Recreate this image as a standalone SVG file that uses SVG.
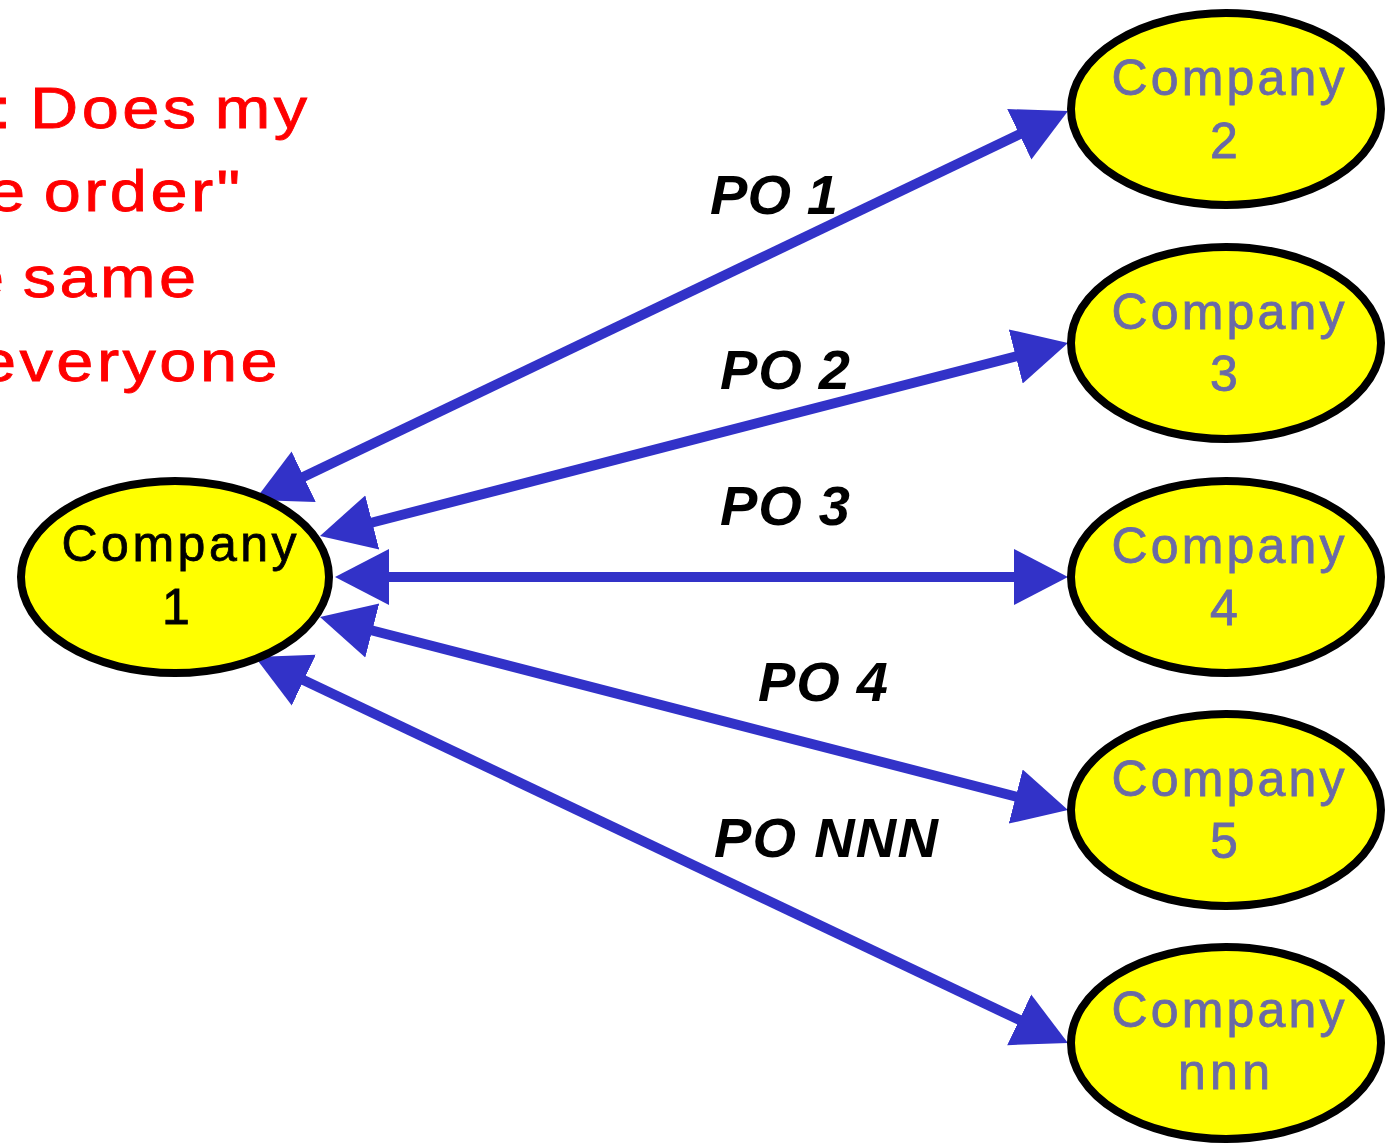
<svg xmlns="http://www.w3.org/2000/svg" width="1393" height="1146" viewBox="0 0 1393 1146">
  <style>
    .node ellipse { fill: #ffff00; stroke: #000000; stroke-width: 8; }
    .lbl { font-family: "Liberation Sans", Arial, sans-serif; font-size: 50px; text-anchor: middle; fill: #6a6aa6; stroke: #6a6aa6; stroke-width: 0.8; }
    .lbl.dark { fill: #000000; stroke: #000000; }
    .po { font-family: "Liberation Sans", Arial, sans-serif; font-size: 56px; font-weight: bold; font-style: italic; fill: #000000; }
    .note { font-family: "Liberation Sans", Arial, sans-serif; font-size: 58px; fill: #ff0000; stroke: #ff0000; stroke-width: 0.8; letter-spacing: 3px; word-spacing: -6px; }
    .edge { fill: none; stroke: #3232c8; stroke-width: 10; marker-start: url(#head); marker-end: url(#head); }
  </style>
  <defs>
    <marker id="head" markerUnits="userSpaceOnUse" markerWidth="60" markerHeight="64" viewBox="0 -32 60 64" refX="4" refY="0" orient="auto-start-reverse">
      <path d="M0,-28 L54,0 L0,28 Z" fill="#3232c8"/>
    </marker>
  </defs>
  <rect width="1393" height="1146" fill="#ffffff"/>

  <!-- question text, running off the left edge -->
  <g id="note">
    <text class="note" transform="translate(-7,128) scale(1.15,1)">: Does my</text>
    <text class="note" transform="translate(-12,211) scale(1.15,1)">e order"</text>
    <text class="note" transform="translate(-33,297) scale(1.15,1)">e same</text>
    <text class="note" transform="translate(-21,381) scale(1.15,1)">everyone</text>
  </g>

  <!-- purchase-order connectors, double headed -->
  <g id="edges">
    <path id="e-po1" class="edge" d="M300.1,478.4 L1022.9,132.6"/>
    <path id="e-po2" class="edge" d="M368.4,523.5 L1019.6,355.5"/>
    <path id="e-po3" class="edge" d="M385,577 L1018,577"/>
    <path id="e-po4" class="edge" d="M368.4,629.5 L1019.6,797.5"/>
    <path id="e-ponnn" class="edge" d="M300.2,678.4 L1022.8,1021.6"/>
    <text class="po" x="710" y="214" textLength="128">PO 1</text>
    <text class="po" x="720" y="389" textLength="130">PO 2</text>
    <text class="po" x="720" y="525" textLength="130">PO 3</text>
    <text class="po" x="758" y="701" textLength="130">PO 4</text>
    <text class="po" x="714" y="857" textLength="224">PO NNN</text>
  </g>

  <g id="company1" class="node">
    <ellipse cx="175" cy="577" rx="154" ry="96"/>
    <text class="lbl dark" x="179" y="561" textLength="235">Company</text>
    <text class="lbl dark" x="176" y="624">1</text>
  </g>
  <g id="company2" class="node">
    <ellipse cx="1226" cy="109" rx="155" ry="96"/>
    <text class="lbl" x="1228" y="95" textLength="233">Company</text>
    <text class="lbl" x="1224" y="158">2</text>
  </g>
  <g id="company3" class="node">
    <ellipse cx="1226" cy="343" rx="155" ry="96"/>
    <text class="lbl" x="1228" y="329" textLength="233">Company</text>
    <text class="lbl" x="1224" y="391">3</text>
  </g>
  <g id="company4" class="node">
    <ellipse cx="1226" cy="577" rx="155" ry="96"/>
    <text class="lbl" x="1228" y="563" textLength="233">Company</text>
    <text class="lbl" x="1224" y="625">4</text>
  </g>
  <g id="company5" class="node">
    <ellipse cx="1226" cy="810" rx="155" ry="96"/>
    <text class="lbl" x="1228" y="796" textLength="233">Company</text>
    <text class="lbl" x="1224" y="858">5</text>
  </g>
  <g id="companynnn" class="node">
    <ellipse cx="1226" cy="1043" rx="155" ry="96"/>
    <text class="lbl" x="1228" y="1027" textLength="233">Company</text>
    <text class="lbl" x="1224" y="1089" textLength="92">nnn</text>
  </g>
</svg>
